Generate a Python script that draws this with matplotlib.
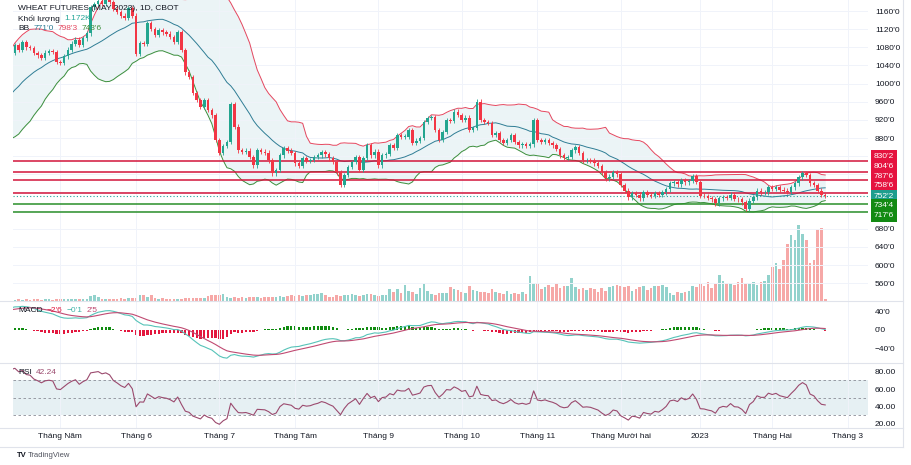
import numpy as np
import pandas as pd
import matplotlib
matplotlib.use('Agg')
import matplotlib.pyplot as plt
from matplotlib.lines import Line2D

plt.rcParams['font.family'] = ['Liberation Sans', 'DejaVu Sans']

# closes before the visible window (warm-up for BB / MACD / RSI)
pre_closes = [760, 780, 800, 805, 825, 845, 850, 870, 890, 885,
              905, 915, 910, 925, 935,
              905, 918, 900, 925, 940, 932, 950, 962, 948, 970,
              985, 978, 995, 1010, 1002, 1025, 1040, 1035, 1055, 1068]

# daily closes, cents (Apr 2022 -> Feb 2023)
closes = [1085, 1075, 1092, 1080, 1078, 1067, 1062, 1056, 1068, 1072,
          1070, 1048, 1046, 1060, 1075, 1088, 1097, 1085, 1100, 1111,
          1168, 1175, 1182, 1176, 1185, 1180, 1165, 1158, 1150, 1145,
          1166, 1150,
          1066, 1089, 1088, 1133, 1120, 1107, 1118, 1113, 1110, 1103,
          1092, 1114, 1074, 1025, 1015, 979, 964, 948, 964, 942,
          930, 876, 847, 862, 871, 955, 905,
          853, 850, 852, 838, 820, 853, 850, 848, 831, 802,
          809, 842, 858, 852, 847, 824, 818, 836, 830, 832,
          838, 842, 849, 844, 835, 827, 804, 776, 798, 816,
          827, 838, 809, 836, 864, 842, 850, 820, 842, 845,
          864, 858, 887, 883, 883, 898, 869, 874, 880, 915,
          924, 926, 898, 876, 893, 920, 918, 938, 931, 920,
          925, 898, 902, 960, 920, 915, 913, 887, 890, 876,
          869, 876, 887, 871, 864, 867, 862, 866, 920, 876,
          872, 876, 869, 864, 856, 842, 836, 838, 853, 860,
          847, 831, 832, 830, 824, 818, 804, 791, 795, 804,
          800, 776, 764, 749, 758, 755, 747, 760, 755, 752,
          758, 755, 760, 767, 780, 782, 778, 787, 782, 785,
          796, 783, 753, 752, 748, 745, 736, 747, 750, 748,
          755, 746, 745, 738, 724, 742, 749, 764, 760, 760,
          771, 768, 771, 766, 764, 762, 771, 780, 793, 802,
          798, 780, 776, 764, 754, 752.25]

# volume, thousands of contracts
volumes = [1.0, 1.1, 1.0, 1.2, 1.0, 1.1, 1.3, 1.0, 1.1, 1.2, 1.0, 1.3,
           1.5, 1.3, 1.6, 1.4, 1.2, 1.5, 1.7, 1.6,
           3.2, 4.0, 2.8,
           1.4, 1.2, 1.1, 1.6, 1.7, 1.8, 1.6, 1.9, 2.0, 2.2,
           3.8, 3.9, 2.9, 4.2,
           2.0, 1.5, 1.8, 1.4, 1.3, 1.2, 1.4, 1.7, 1.8, 1.9,
           2.0, 2.2, 2.1, 1.8,
           3.5, 4.0, 4.0, 4.1, 4.5, 2.6,
           2.2, 2.6, 2.0, 2.4, 2.2, 2.8, 2.4, 2.6, 2.3, 3.0, 2.6, 2.4,
           3.0, 3.6, 2.8, 3.4, 3.8, 3.2, 4.2, 3.6,
           4.0, 4.2, 4.5, 5.0, 5.3, 4.4,
           3.0, 2.6, 4.0, 3.2, 3.8, 4.4, 4.6, 3.9, 3.7, 4.0, 4.6, 4.8, 4.2, 3.6, 4.0, 4.4,
           8.5, 6.5, 8.0, 5.8, 11.0, 7.0, 6.5, 4.8, 9.0, 11.5, 7.0, 5.0,
           4.0, 5.5, 5.5, 5.5, 9.5, 8.0, 7.5, 6.0, 5.5, 10.0, 7.5, 7.0, 6.5,
           6.0, 5.8, 8.5, 6.0, 5.5, 4.5, 7.0, 4.5, 5.2, 4.8, 6.0, 5.0, 17.0,
           12.5, 12.0, 8.5, 9.5, 11.0, 9.5, 11.5, 9.0, 10.0, 10.5, 15.5,
           9.5, 8.5, 9.0, 7.5, 9.0, 8.0, 6.5, 9.0, 7.0, 9.5, 10.5, 11.0,
           10.0, 9.5, 10.5, 7.0, 8.0, 9.5, 10.0, 7.5, 9.0, 10.0, 10.5, 11.0,
           9.5, 5.5, 3.8, 6.0, 5.5, 6.5, 7.0,
           10.0, 9.5, 11.5, 10.0, 13.0, 9.0, 11.5,
           18.0,
           14.0, 12.5, 12.0, 11.0, 13.0, 15.5, 12.0, 12.5, 13.0, 11.0,
           13.0, 14.0, 18.0, 23.0, 26.0, 22.0, 28.0, 39.0, 45.0, 42.0,
           52.0, 46.0, 42.0, 26.0, 28.0, 49.0, 50.0, 1.17]

month_pos = [12, 32, 54, 74, 96, 118, 138, 160, 181, 200, 220]
month_labels = ['Tháng Năm', 'Tháng 6', 'Tháng 7', 'Tháng Tám', 'Tháng 9', 'Tháng 10',
                'Tháng 11', 'Tháng Mười hai', '2023', 'Tháng Hai', 'Tháng 3']

red_levels = [830.25, 804.75, 787.75, 758.75]
green_levels = [734.5, 717.75]
last_price = 752.25
level_labels = ["830'2", "804'6", "787'6", "758'6", "752'2", "734'4", "717'6"]

UP = '#22a58f'
DN = '#f23645'
TXT = '#131722'
GRID = '#f0f3fa'

# ---- indicators
allc = pd.Series(pre_closes + closes, index=np.arange(-len(pre_closes), len(closes)), dtype=float)
mid = allc.rolling(20).mean()
sd = allc.rolling(20).std(ddof=0)
upper = mid + 2 * sd
lower = mid - 2 * sd

ema12 = allc.ewm(span=12, adjust=False).mean()
ema26 = allc.ewm(span=26, adjust=False).mean()
macd = ema12 - ema26
signal = macd.ewm(span=9, adjust=False).mean()
hist = macd - signal

delta = allc.diff()
gain = delta.clip(lower=0).ewm(alpha=1 / 14, adjust=False).mean()
loss = (-delta.clip(upper=0)).ewm(alpha=1 / 14, adjust=False).mean()
rsi = 100 - 100 / (1 + gain / loss)

# ---- figure
W, H = 911, 465
fig = plt.figure(figsize=(W / 100, H / 100), dpi=100)
renderer = fig.canvas.get_renderer()


def axrect(top, bottom):
    return [13 / W, 1 - bottom / H, 855 / W, (bottom - top) / H]


def px(x, y):
    return x / W, 1 - y / H


def legend_row(x0, y0, parts, fs=6, gap=4):
    # place coloured text pieces one after another
    xx = x0
    for s, colr in parts:
        t = fig.text(*px(xx, y0), s, fontsize=fs, color=colr, va='center')
        xx += t.get_window_extent(renderer).width + gap


ax = fig.add_axes(axrect(0, 301))
axm = fig.add_axes(axrect(301, 363), sharex=ax)
axr = fig.add_axes(axrect(363, 428), sharex=ax)

x = np.arange(len(closes))
c = np.array(closes, dtype=float)
o = np.array([pre_closes[-1]] + closes[:-1], dtype=float)
up = c >= o
col = np.where(up, UP, DN)
wick = 5

# volume overlay
axv = ax.twinx()
axv.bar(x, volumes, width=0.7, color=np.where(up, '#26a69a', '#ef5350'), alpha=0.5, lw=0)
axv.set_ylim(0, max(volumes) * 301 / 76)
axv.axis('off')
ax.set_zorder(axv.get_zorder() + 1)
ax.patch.set_visible(False)

# bollinger bands
ax.fill_between(allc.index, upper, lower, color='#ebf4f6', lw=0, zorder=1)
ax.plot(allc.index, upper, color='#e5475f', lw=0.7, zorder=2)
ax.plot(allc.index, mid, color='#2f7d95', lw=0.7, zorder=2)
ax.plot(allc.index, lower, color='#3c8f3c', lw=0.7, zorder=2)

# levels
for lv in red_levels:
    ax.axhline(lv, color='#d2153b', lw=1.1, zorder=2.5)
for lv in green_levels:
    ax.axhline(lv, color='#2a8f2a', lw=1.1, zorder=2.5)
ax.axhline(last_price, color='#26a69a', lw=0.8, ls=(0, (1, 2)), zorder=2.5)

# candles
ax.vlines(x, np.minimum(o, c) - wick, np.maximum(o, c) + wick, colors=col, lw=0.6, zorder=3)
ax.bar(x, np.maximum(np.abs(c - o), 0.8), bottom=np.minimum(o, c), width=0.68,
       color=col, lw=0, zorder=4)

ax.set_xlim(-0.5, 225.3)
ax.set_ylim(520.7, 1184.3)
yt = np.arange(560, 1161, 40)
ax.set_yticks(yt)
ax.set_yticklabels(['' if 700 < v < 860 else f"{v}'0" for v in yt])
ax.yaxis.tick_right()

# MACD
hv = hist.loc[0:].values
axm.bar(x, hv, width=0.6, color=np.where(hv >= 0, '#118c11', '#e3173e'), lw=0)
axm.plot(allc.index, macd, color='#56c3b8', lw=0.8)
axm.plot(allc.index, signal, color='#c04a72', lw=0.8)
axm.set_ylim(-73.3, 64.4)
axm.set_yticks([-40, 0, 40])
axm.set_yticklabels(["\u221240'0", "0'0", "40'0"])
axm.yaxis.tick_right()

# RSI
axr.axhspan(30, 70, color='#e6f0f3', lw=0, zorder=0)
for lv in (70, 50, 30):
    axr.axhline(lv, color='#8a8d96', lw=0.6, ls=(0, (3, 3)), zorder=1)
axr.plot(allc.index, rsi, color='#9b4a6e', lw=0.8, zorder=2)
axr.set_ylim(15.4, 90)
axr.set_yticks([20, 40, 60, 80])
axr.set_yticklabels(['20.00', '40.00', '60.00', '80.00'])
axr.yaxis.tick_right()

axr.set_xticks(month_pos)
axr.set_xticklabels(month_labels)

for a in (ax, axm, axr):
    for s in a.spines.values():
        s.set_visible(False)
    a.tick_params(axis='y', length=0, pad=5, labelsize=6, labelcolor=TXT)
    a.tick_params(axis='x', length=0, labelsize=6, labelcolor=TXT)
    a.grid(True, axis='x', color=GRID, lw=0.7)
ax.grid(True, axis='y', color=GRID, lw=0.7)
ax.tick_params(axis='x', labelbottom=False)
axm.tick_params(axis='x', labelbottom=False)
axr.tick_params(axis='x', pad=3.5)

# price labels on the scale
label_y = [156.7, 166.7, 176.7, 185.9, 196.0, 205.7, 215.7]
label_fc = ['#e5133f', '#e5133f', '#e5133f', '#e5133f', '#1f9e8e', '#138a13', '#138a13']
for t, yy, fc in zip(level_labels, label_y, label_fc):
    fig.text(*px(884, yy), t, ha='center', va='center', fontsize=6, color='white',
             bbox=dict(boxstyle='square,pad=0.35', fc=fc, ec='none'))

# pane borders
for yy in (301, 363, 428, 447):
    fig.add_artist(Line2D([0, 903 / W], [1 - yy / H] * 2, color='#e0e3eb', lw=0.8))
fig.add_artist(Line2D([903 / W] * 2, [1 - 447 / H, 1], color='#e0e3eb', lw=0.8))

# legends
legend_row(18, 9, [('WHEAT FUTURES (MAY 2023), 1D, CBOT', TXT)])
legend_row(18, 19, [('Khối lượng', TXT), ('1.172K', '#26a69a')])
legend_row(18, 28, [('BB', TXT), ("771'0", '#2f7d95'), ("798'3", '#e5475f'),
                    ("743'6", '#3c8f3c')])
legend_row(18, 310, [('MACD', TXT), ("\u22122'6", '#e3173e'), ("\u22120'1", '#3fb3a8'),
                     ("2'5", '#c04a72')])
legend_row(18, 372, [('RSI', TXT), ('42.24', '#9b4a6e')])

fig.text(*px(17, 455), 'TV', fontsize=5.5, color=TXT, va='center', fontweight='bold')
fig.text(*px(28, 455), 'TradingView', fontsize=5.5, color='#50535e', va='center')

fig.savefig('out.png', dpi=100, facecolor='white')
